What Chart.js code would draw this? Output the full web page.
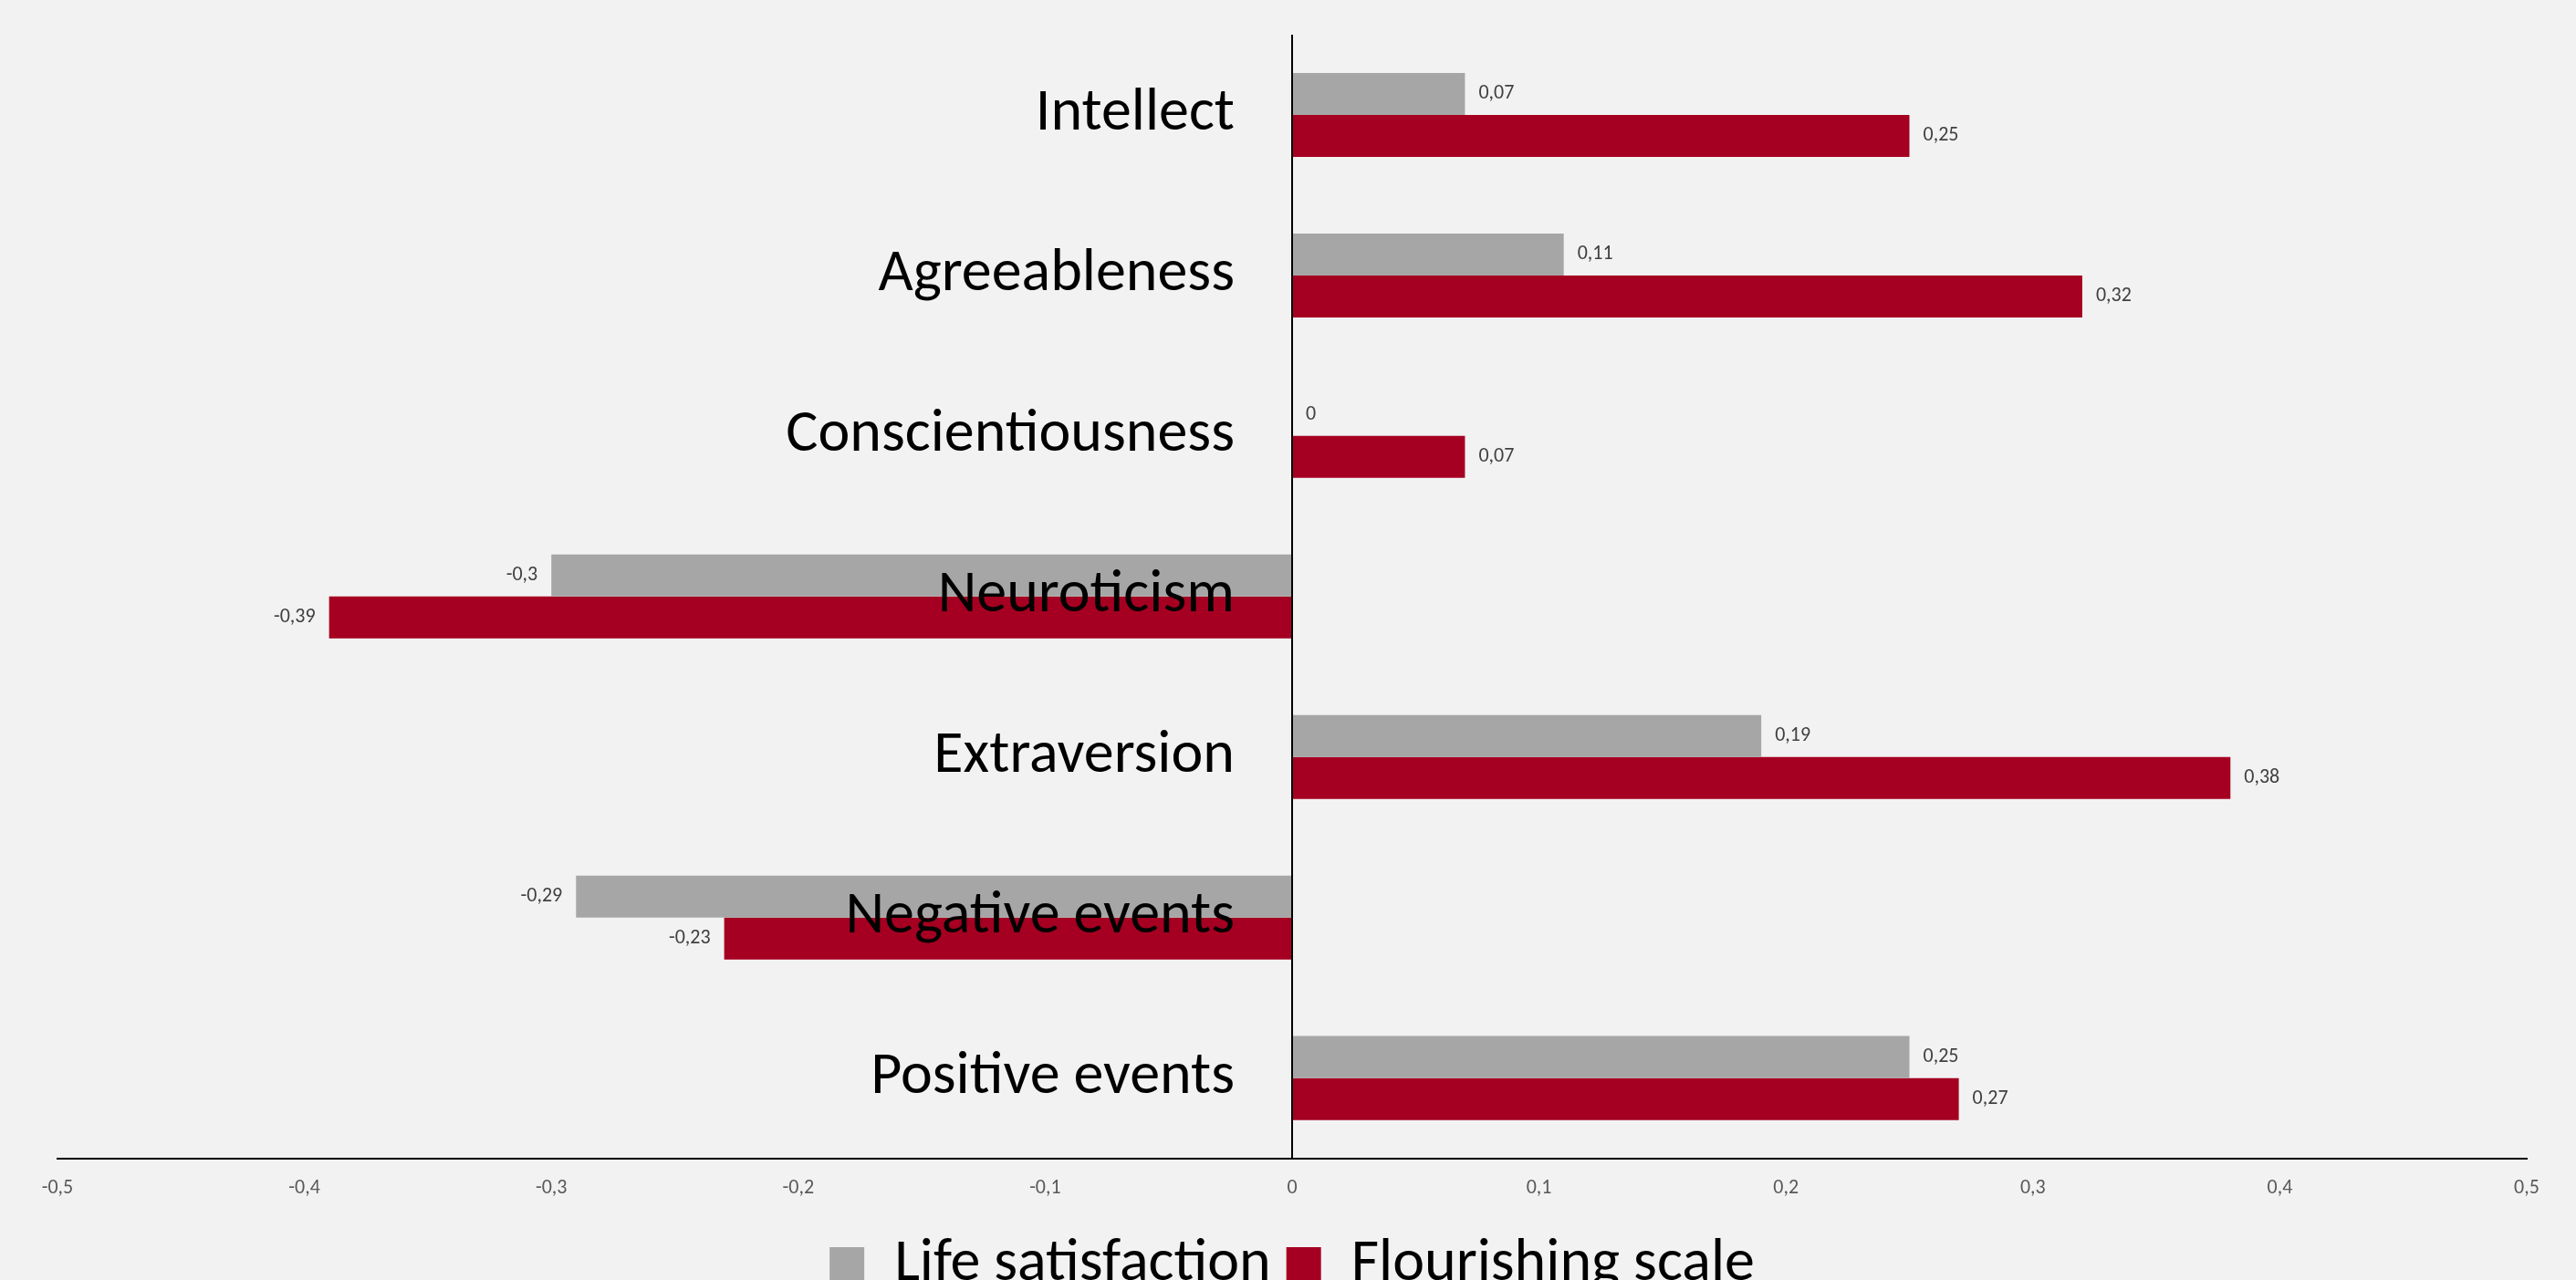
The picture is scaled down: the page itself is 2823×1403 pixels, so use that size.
<!DOCTYPE html>
<html>
<head>
<meta charset="utf-8">
<script src="https://cdn.jsdelivr.net/npm/chart.js@4.4.1/dist/chart.umd.min.js"></script>
<style>
  html, body { margin: 0; padding: 0; background: #F2F2F2; overflow: hidden; }
  #wrap { width: 2823px; height: 1403px; overflow: hidden; position: relative; }
  canvas { display: block; }
</style>
</head>
<body>
<div id="wrap"><canvas id="c" width="2823" height="1429"></canvas></div>
<script>
const categories = ['Intellect', 'Agreeableness', 'Conscientiousness', 'Neuroticism', 'Extraversion', 'Negative events', 'Positive events'];
const lifeSatisfaction = [0.07, 0.11, 0, -0.3, 0.19, -0.29, 0.25];
const flourishingScale = [0.25, 0.32, 0.07, -0.39, 0.38, -0.23, 0.27];
const seriesNames = ['Life satisfaction', 'Flourishing scale'];
const xTickLabels = ['-0,5', '-0,4', '-0,3', '-0,2', '-0,1', '0', '0,1', '0,2', '0,3', '0,4', '0,5'];

const FONT = "Carlito, 'Liberation Sans Narrow', 'Open Sans', sans-serif";

const fmt = v => String(v).replace('.', ',');

const dataLabelPlugin = {
  id: 'dataLabels',
  afterDatasetsDraw(chart) {
    const ctx = chart.ctx;
    ctx.save();
    ctx.font = "22px " + FONT;
    ctx.fillStyle = '#404040';
    ctx.textBaseline = 'middle';
    chart.data.datasets.forEach((ds, di) => {
      const meta = chart.getDatasetMeta(di);
      meta.data.forEach((el, i) => {
        const v = ds.data[i];
        if (v < 0) {
          ctx.textAlign = 'right';
          ctx.fillText(fmt(v), el.x - 15, el.y);
        } else {
          ctx.textAlign = 'left';
          ctx.fillText(fmt(v), el.x + 15, el.y);
        }
      });
    });
    ctx.restore();
  }
};

Chart.defaults.font.family = FONT;

new Chart(document.getElementById('c'), {
  type: 'bar',
  data: {
    labels: categories,
    datasets: [
      { label: seriesNames[0], data: lifeSatisfaction, backgroundColor: '#A6A6A6', borderWidth: 0 },
      { label: seriesNames[1], data: flourishingScale, backgroundColor: '#A50021', borderWidth: 0 }
    ]
  },
  options: {
    indexAxis: 'y',
    responsive: false,
    animation: false,
    devicePixelRatio: 1,
    layout: { padding: { top: 38, left: 63, right: 54, bottom: 0 } },
    datasets: { bar: { barPercentage: 1, categoryPercentage: 0.523 } },
    scales: {
      x: {
        position: 'bottom',
        min: -0.5, max: 0.5,
        grid: {
          display: true, drawTicks: false, drawOnChartArea: true, lineWidth: 2,
          color: ctx => (ctx.tick && Math.abs(ctx.tick.value) < 1e-9) ? '#000000' : 'rgba(0,0,0,0)'
        },
        border: { display: true, color: '#000000', width: 2 },
        ticks: {
          stepSize: 0.1,
          padding: 20,
          color: '#595959',
          font: { size: 22, family: FONT },
          callback: (value, index) => xTickLabels[index]
        }
      },
      y: {
        position: { x: -0.0233 },
        grid: { display: false, drawTicks: false },
        border: { display: false },
        afterFit: s => { s.paddingTop = 0; s.paddingBottom = 0; },
        ticks: {
          z: 1,
          color: '#000000',
          font: { size: 66, family: FONT }
        }
      }
    },
    plugins: {
      legend: {
        position: 'bottom',
        labels: {
          boxWidth: 38, boxHeight: 38, padding: 17,
          color: '#000000',
          font: { size: 66, family: FONT }
        }
      },
      tooltip: { enabled: false }
    }
  },
  plugins: [dataLabelPlugin]
});
</script>
</body>
</html>
